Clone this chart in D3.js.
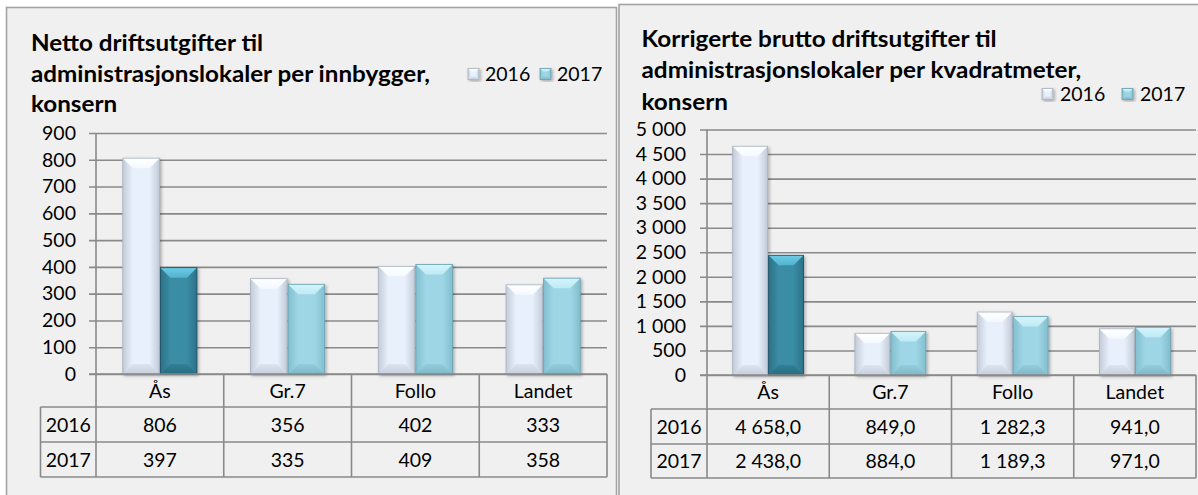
<!DOCTYPE html>
<html>
<head>
<meta charset="utf-8">
<script src="https://cdn.jsdelivr.net/npm/d3@7"></script>
<style>
  html, body { margin: 0; padding: 0; background: #ffffff; }
  svg { display: block; }
  text { font-family: Lato, "Open Sans", sans-serif; fill: #000; }
</style>
</head>
<body>
<svg id="chart" width="1198" height="495"></svg>
<script>
// ---- data -------------------------------------------------------------
const categories = ["Ås", "Gr.7", "Follo", "Landet"];
const seriesNames = ["2016", "2017"];
const highlighted = "Ås";

const netto2016 = [806, 356, 402, 333];
const netto2017 = [397, 335, 409, 358];
const nettoTicks = [0, 100, 200, 300, 400, 500, 600, 700, 800, 900];
const nettoTitle = ["Netto driftsutgifter til", "administrasjonslokaler per innbygger,", "konsern"];

const brutto2016 = [4658.0, 849.0, 1282.3, 941.0];
const brutto2017 = [2438.0, 884.0, 1189.3, 971.0];
const bruttoTicks = [0, 500, 1000, 1500, 2000, 2500, 3000, 3500, 4000, 4500, 5000];
const bruttoTitle = ["Korrigerte brutto driftsutgifter til", "administrasjonslokaler per kvadratmeter,", "konsern"];

// ---- formatting (Norwegian number style) ------------------------------
const no = d3.formatLocale({ decimal: ",", thousands: "\u00a0", grouping: [3], currency: ["", " kr"] });
const fmtInt = no.format(",.0f");
const fmtOne = no.format(",.1f");

// ---- styles -----------------------------------------------------------
const GRID = "#8a8a8a";
const FONT = 19.5;
const TITLE_FONT = 22;
const styles = {
  s2016: { main: "#e7f0fb", top0: "#ffffff", top1: "#f4f9ff", side: "#c2cbd7", bot0: "#dbe4ef", bot1: "#c6cfdb", stroke: "#a7b1bd" },
  s2017: { main: "#9fd6e5", top0: "#d3f4fb", top1: "#bfeaf5", side: "#82bfcf", bot0: "#93cddc", bot1: "#7fb8c8", stroke: "#6a9fae" },
  sHigh: { main: "#3a8ca5", top0: "#6ccbe6", top1: "#52b3cf", side: "#2c7288", bot0: "#327f96", bot1: "#276c81", stroke: "#1c4f5f" }
};

const svg = d3.select("#chart");
const defs = svg.append("defs");

const shadow = defs.append("filter").attr("id", "barShadow")
  .attr("x", "-20%").attr("y", "-10%").attr("width", "150%").attr("height", "130%");
shadow.append("feDropShadow").attr("dx", 1.5).attr("dy", 1.5).attr("stdDeviation", 1.4)
  .attr("flood-color", "#000").attr("flood-opacity", 0.3);

function gradient(id, x2, y2, c0, c1) {
  const g = defs.append("linearGradient").attr("id", id)
    .attr("x1", 0).attr("y1", 0).attr("x2", x2).attr("y2", y2);
  g.append("stop").attr("offset", "0%").attr("stop-color", c0);
  g.append("stop").attr("offset", "100%").attr("stop-color", c1);
}
Object.entries(styles).forEach(([k, s]) => {
  gradient(k + "-top", 0, 1, s.top0, s.top1);
  gradient(k + "-bot", 0, 1, s.bot0, s.bot1);
  gradient(k + "-left", 1, 0, s.side, s.main);
  gradient(k + "-right", 1, 0, s.main, s.side);
});

// A column with a bevelled face: light top, dark bottom, shaded sides.
function bevelBar(g, x, y, w, h, key, bevel) {
  const s = styles[key];
  const b = Math.min(bevel, w / 2, h / 2);
  const x1 = x + w, y1 = y + h;
  const bar = g.append("g").attr("filter", "url(#barShadow)");
  bar.append("rect").attr("x", x).attr("y", y).attr("width", w).attr("height", h).attr("fill", s.main);
  const poly = (pts, fill) => bar.append("polygon").attr("points", pts.map(p => p.join(",")).join(" ")).attr("fill", fill);
  poly([[x, y], [x + b, y + b], [x + b, y1 - b], [x, y1]], `url(#${key}-left)`);
  poly([[x1, y], [x1, y1], [x1 - b, y1 - b], [x1 - b, y + b]], `url(#${key}-right)`);
  poly([[x, y], [x1, y], [x1 - b, y + b], [x + b, y + b]], `url(#${key}-top)`);
  poly([[x, y1], [x + b, y1 - b], [x1 - b, y1 - b], [x1, y1]], `url(#${key}-bot)`);
  bar.append("rect").attr("x", x).attr("y", y).attr("width", w).attr("height", h)
    .attr("fill", "none").attr("stroke", s.stroke).attr("stroke-width", 0.8);
}

// ---- one chart panel --------------------------------------------------
function drawPanel(cfg) {
  const g = svg.append("g");

  // frame
  g.append("rect").attr("x", cfg.frame.x).attr("y", cfg.frame.y)
    .attr("width", cfg.frame.w).attr("height", 600)
    .attr("fill", "#f0f0f0").attr("stroke", "#a3a3a3").attr("stroke-width", 1.6);

  // title: a condensed bold face, squeezed so the longest line fills its width
  const title = g.append("g");
  const probe = title.append("text").attr("font-weight", 700).attr("font-size", TITLE_FONT).text(cfg.title[1]);
  const sx = cfg.titleWidth / probe.node().getComputedTextLength();
  probe.remove();
  cfg.title.forEach((line, i) => {
    title.append("text")
      .attr("transform", `translate(${cfg.titleX},${cfg.titleBase[i]}) scale(${sx},1)`)
      .attr("font-weight", 700).attr("font-size", TITLE_FONT).text(line);
  });

  const x = d3.scaleBand().domain(categories).range([cfg.plot.x0, cfg.plot.x1]).paddingInner(0).paddingOuter(0);
  const xs = d3.scaleBand().domain(seriesNames).range([0, x.bandwidth()]).paddingInner(0).paddingOuter(0.7);
  const y = d3.scaleLinear().domain([cfg.ticks[0], cfg.ticks[cfg.ticks.length - 1]]).range([cfg.plot.y0, cfg.plot.y1]);

  // gridlines + tick labels
  const tickOut = 7;
  const axis = d3.axisLeft(y).tickValues(cfg.ticks)
    .tickSizeInner(-(cfg.plot.x1 - cfg.plot.x0 + tickOut)).tickSizeOuter(0)
    .tickPadding(cfg.plot.x0 - tickOut - cfg.tickLabelX)
    .tickFormat(fmtInt);
  const ag = g.append("g").attr("transform", `translate(${cfg.plot.x0 - tickOut},0)`).call(axis);
  ag.select(".domain").remove();
  ag.selectAll(".tick line").attr("stroke", GRID).attr("stroke-width", 1.6);
  ag.selectAll(".tick text").attr("font-family", "Lato, 'Open Sans', sans-serif")
    .attr("font-size", FONT).attr("fill", "#000");

  // bars
  const bars = g.append("g");
  categories.forEach((c, i) => {
    cfg.values.forEach((vals, si) => {
      const v = vals[i];
      const key = si === 0 ? "s2016" : (c === highlighted ? "sHigh" : "s2017");
      const bx = x(c) + xs(seriesNames[si]);
      bevelBar(bars, bx + 0.5, y(v), xs.bandwidth() - 1, y(0) - y(v), key, 10);
    });
  });

  // data table under the plot
  const t = g.append("g");
  const rows = cfg.tableRows;           // y positions of row edges
  const line = (x1, y1, x2, y2) => t.append("line").attr("x1", x1).attr("y1", y1).attr("x2", x2).attr("y2", y2)
    .attr("stroke", GRID).attr("stroke-width", 1.6);
  line(cfg.plot.x0, cfg.plot.y1, cfg.plot.x0, rows[3]);
  categories.forEach(c => line(x(c) + x.bandwidth(), rows[0], x(c) + x.bandwidth(), rows[3]));
  line(cfg.plot.x0 - tickOut, rows[0], cfg.plot.x1, rows[0]);
  [1, 2, 3].forEach(r => line(cfg.tableX0, rows[r], cfg.plot.x1, rows[r]));
  line(cfg.tableX0, rows[1], cfg.tableX0, rows[3]);

  const cellText = (tx, ty, s) => t.append("text").attr("x", tx).attr("y", ty).attr("dy", "0.36em")
    .attr("text-anchor", "middle").attr("font-size", FONT).text(s);
  categories.forEach(c => cellText(x(c) + x.bandwidth() / 2, (rows[0] + rows[1]) / 2, c));
  seriesNames.forEach((s, si) => {
    const cy = (rows[si + 1] + rows[si + 2]) / 2;
    cellText((cfg.tableX0 + cfg.plot.x0) / 2, cy, s);
    categories.forEach((c, i) => cellText(x(c) + x.bandwidth() / 2, cy, cfg.cellFormat(cfg.values[si][i])));
  });

  // legend
  const lg = g.append("g");
  seriesNames.forEach((s, si) => {
    const lx = cfg.legend.xs[si];
    bevelBar(lg, lx, cfg.legend.y - 5.5, 11, 11, si === 0 ? "s2016" : "s2017", 3);
    lg.append("text").attr("x", lx + cfg.legend.textGap).attr("y", cfg.legend.y).attr("dy", "0.36em")
      .attr("font-size", FONT).text(s);
  });
}

drawPanel({
  frame: { x: 6.5, y: 7.5, w: 610 },
  title: nettoTitle, titleX: 31, titleBase: [50.5, 81.5, 111.5], titleWidth: 399,
  ticks: nettoTicks, values: [netto2016, netto2017], cellFormat: fmtInt,
  plot: { x0: 96, x1: 607, y0: 374, y1: 133 },
  tickLabelX: 76,
  tableX0: 40.5, tableRows: [374, 407, 442, 477],
  legend: { xs: [468, 540], y: 74, textGap: 17 }
});

drawPanel({
  frame: { x: 619, y: 4.5, w: 620 },
  title: bruttoTitle, titleX: 641.5, titleBase: [47, 78, 109.5], titleWidth: 440,
  ticks: bruttoTicks, values: [brutto2016, brutto2017], cellFormat: fmtOne,
  plot: { x0: 707, x1: 1196, y0: 375, y1: 129.5 },
  tickLabelX: 686,
  tableX0: 651, tableRows: [375, 409, 444, 478],
  legend: { xs: [1042, 1122], y: 94, textGap: 18 }
});
</script>
</body>
</html>
